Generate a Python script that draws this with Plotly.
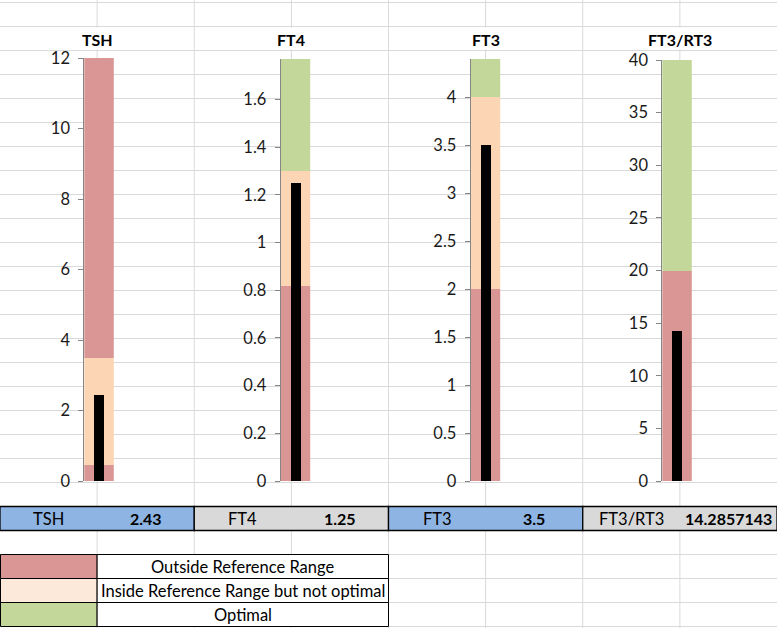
import plotly.graph_objects as go

# ---------------- data ----------------
panel_names = ["TSH", "FT4", "FT3", "FT3/RT3"]
panel_values = [2.43, 1.25, 3.5, 14.2857143]
panel_value_labels = ["2.43", "1.25", "3.5", "14.2857143"]

tsh_bounds = [0, 0.45, 3.5, 12]
tsh_zones = ["out", "in", "out"]
ft4_bounds = [0, 0.82, 1.3, 1.77]
ft4_zones = ["out", "in", "opt"]
ft3_bounds = [0, 2, 4, 4.4]
ft3_zones = ["out", "in", "opt"]
ratio_bounds = [0, 20, 40]
ratio_zones = ["out", "opt"]

panel_dticks = [2, 0.2, 0.5, 5]

legend_labels = ["Outside Reference Range", "Inside Reference Range but not optimal", "Optimal"]
legend_keys = ["out", "in", "opt"]

# ---------------- style ----------------
W, H = 777, 628
FONT = "Lato"
zone_colors = {"out": "#DA9694", "in": "#FCD5B4", "opt": "#C4D79B"}
legend_colors = {"out": "#DA9694", "in": "#FDE9D9", "opt": "#C4D79B"}
table_fills = ["#8DB4E2", "#D9D9D9", "#8DB4E2", "#D9D9D9"]
grid_color = "#D9D9D9"
axis_color = "#868686"
TXT = 16.5

def px(x):
    return x / W

def py(y):
    return 1 - y / H

bounds_list = [tsh_bounds, ft4_bounds, ft3_bounds, ratio_bounds]
zones_list = [tsh_zones, ft4_zones, ft3_zones, ratio_zones]

axis_x = [84.3, 280.7, 470.7, 662.3]     # pixel x of each value axis
plot_top = [58, 59, 59, 60]               # pixel y of top of plot area
plot_bottom = 481
bar_px = 29.5
black_px = 10.5
title_cx = [97.1, 291.4, 485.7, 680.0]

fig = go.Figure()
layout_axes = {}
for i, (bounds, zones) in enumerate(zip(bounds_list, zones_list)):
    n = "" if i == 0 else str(i + 1)
    xa, ya = "x" + n, "y" + n
    for j, z in enumerate(zones):
        fig.add_trace(go.Bar(
            x=[0], y=[bounds[j + 1] - bounds[j]], base=[bounds[j]], width=1,
            marker=dict(color=zone_colors[z], line=dict(width=0)),
            xaxis=xa, yaxis=ya, showlegend=False, hoverinfo="skip"))
    fig.add_trace(go.Bar(
        x=[0], y=[panel_values[i]], width=black_px / bar_px,
        marker=dict(color="black", line=dict(width=0)),
        xaxis=xa, yaxis=ya, showlegend=False, hoverinfo="skip"))
    layout_axes["xaxis" + n] = dict(
        domain=[px(axis_x[i]), px(axis_x[i] + bar_px)], range=[-0.5, 0.5],
        visible=False, anchor=ya, fixedrange=True, automargin=False)
    layout_axes["yaxis" + n] = dict(
        domain=[py(plot_bottom), py(plot_top[i])], range=[bounds[0], bounds[-1]],
        anchor=xa, showline=True, linecolor=axis_color, linewidth=1,
        ticks="outside", ticklen=5, tickcolor=axis_color, tickwidth=1,
        tick0=0, dtick=panel_dticks[i], showgrid=False, zeroline=False,
        tickfont=dict(family=FONT, size=TXT, color="#1a1a1a"),
        ticklabelstandoff=5, fixedrange=True, automargin=False)

shapes = []
# spreadsheet gridlines
col_w = W / 8
for k in range(1, 8):
    shapes.append(dict(type="line", xref="paper", yref="paper",
                       x0=px(k * col_w), x1=px(k * col_w), y0=0, y1=1,
                       line=dict(color=grid_color, width=1), layer="below"))
for k in range(0, 27):
    y = 2.5 + 24 * k
    shapes.append(dict(type="line", xref="paper", yref="paper",
                       x0=0, x1=1, y0=py(y), y1=py(y),
                       line=dict(color=grid_color, width=1), layer="below"))
# white boxes behind chart titles
for cx in title_cx:
    shapes.append(dict(type="rect", xref="paper", yref="paper",
                       x0=px(cx - 30), x1=px(cx + 30), y0=py(49.5), y1=py(27.5),
                       fillcolor="white", line=dict(width=0), layer="below"))

annotations = []
for i, name in enumerate(panel_names):
    annotations.append(dict(text="<b>%s</b>" % name, x=px(title_cx[i]), y=py(39.5),
                            xref="paper", yref="paper", showarrow=False,
                            xanchor="center", yanchor="middle",
                            font=dict(family=FONT, size=16, color="black")))

# value table row
t_top, t_bot = 506.5, 530.5
for i, name in enumerate(panel_names):
    x0 = i * 2 * col_w
    x1 = (i + 1) * 2 * col_w
    shapes.append(dict(type="rect", xref="paper", yref="paper",
                       x0=px(x0), x1=px(x1), y0=py(t_bot), y1=py(t_top),
                       fillcolor=table_fills[i], line=dict(color="black", width=1.3),
                       layer="below"))
    annotations.append(dict(text=name, x=px(x0 + col_w / 2), y=py((t_top + t_bot) / 2),
                            xref="paper", yref="paper", showarrow=False,
                            xanchor="center", yanchor="middle",
                            font=dict(family=FONT, size=TXT, color="black")))
    annotations.append(dict(text="<b>%s</b>" % panel_value_labels[i],
                            x=px(x0 + 1.5 * col_w), y=py((t_top + t_bot) / 2),
                            xref="paper", yref="paper", showarrow=False,
                            xanchor="center", yanchor="middle",
                            font=dict(family=FONT, size=16, color="black")))

# legend table
l_top = 554.5
for r, (lab, key) in enumerate(zip(legend_labels, legend_keys)):
    y0 = l_top + 24 * r
    y1 = y0 + 24
    shapes.append(dict(type="rect", xref="paper", yref="paper",
                       x0=px(0.5), x1=px(col_w), y0=py(y1), y1=py(y0),
                       fillcolor=legend_colors[key], line=dict(color="black", width=1),
                       layer="below"))
    shapes.append(dict(type="rect", xref="paper", yref="paper",
                       x0=px(col_w), x1=px(4 * col_w), y0=py(y1), y1=py(y0),
                       fillcolor="white", line=dict(color="black", width=1),
                       layer="below"))
    annotations.append(dict(text=lab, x=px(2.5 * col_w), y=py((y0 + y1) / 2),
                            xref="paper", yref="paper", showarrow=False,
                            xanchor="center", yanchor="middle",
                            font=dict(family=FONT, size=TXT, color="black")))

fig.update_layout(
    width=W, height=H, margin=dict(l=0, r=0, t=0, b=0, pad=0, autoexpand=False),
    paper_bgcolor="white", plot_bgcolor="rgba(0,0,0,0)",
    barmode="overlay", bargap=0, showlegend=False,
    shapes=shapes, annotations=annotations, **layout_axes)

fig.write_html("out.html", config={"displayModeBar": False},
               post_script="document.body.style.margin='0';document.body.style.overflow='hidden';")
